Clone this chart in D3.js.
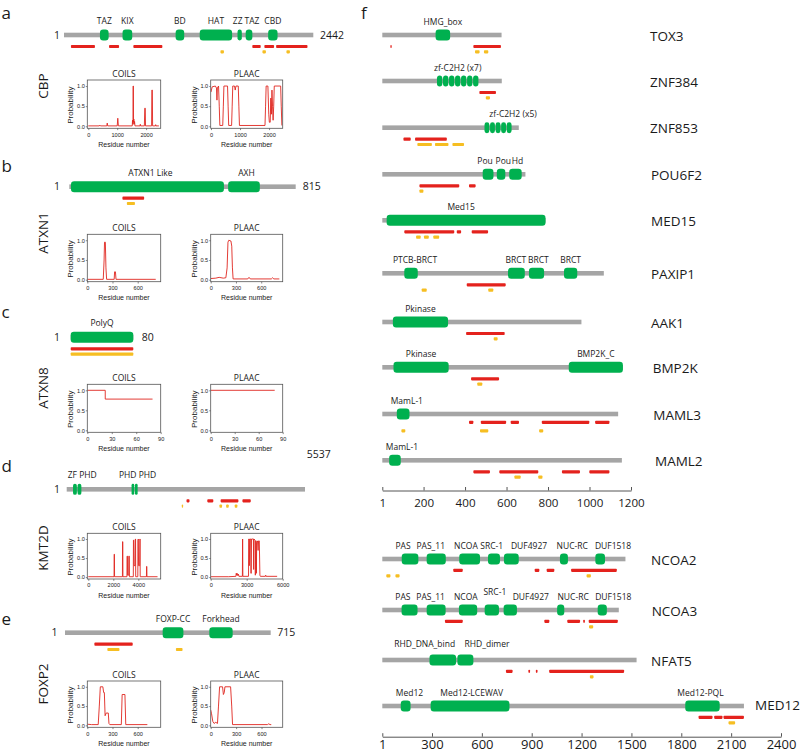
<!DOCTYPE html>
<html><head><meta charset="utf-8">
<script src="https://cdn.jsdelivr.net/npm/d3@7"></script>
<style>body{margin:0;background:#fff}</style>
</head><body><svg id="c" width="800" height="753"></svg>
<script>
// ================= DATA =================
// ---- left panels (a-e) ----
const leftGenes   = ["CBP", "ATXN1", "ATXN8", "KMT2D", "FOXP2"];
const leftLetters = ["a", "b", "c", "d", "e"];
const leftLengths = [2442, 815, 80, 5537, 715];

const cbpDom  = [["TAZ",353,438],["KIX",574,669],["BD",1094,1178],["HAT",1330,1647],["ZZ",1700,1742],["TAZ",1780,1845],["CBD",2000,2092]];
const cbpRed  = [[69,304],[442,540],[680,964],[1845,1927],[1963,2058],[2078,2385]];
const cbpYel  = [[1533,1567],[1944,1978],[2179,2213]];
const atxn1Dom = [["ATXN1 Like",7,557],["AXH",572,686]];
const atxn1Red = [[192,270]];
const atxn1Yel = [[208,237]];
const atxn8Dom = [["PolyQ",1,80]];
const atxn8Red = [[1,80]];
const atxn8Yel = [[1,80]];
const kmt2dDom = [["ZF PHD",140,350,2],["PHD PHD",1500,1657,2]];
const kmt2dRed = [[2784,2854],[3267,3407],[3577,3990],[4083,4277]];
const kmt2dYel = [[2675,2700],[3550,3610],[3705,3765],[3905,3965]];
const foxp2Dom = [["FOXP-CC",340,412],["Forkhead",502,583]];
const foxp2Red = [[103,236]];
const foxp2Yel = [[148,190],[386,409]];

// COILS / PLAAC probability traces: [residue, probability]
const cbpCoils = [[0,0.01],[380,0.01],[400,0.03],[420,0.01],[640,0.01],[655,0.08],[670,0.01],[1000,0.01],[1020,0.2],[1040,0.01],[1520,0.01],[1530,0.15],[1545,0.05],[1550,1.0],[1560,1.0],[1565,0.1],[1575,0.18],[1585,0.05],[1600,0.12],[1615,0.01],[1790,0.01],[1800,0.05],[1810,0.01],[1940,0.01],[1955,0.45],[1970,0.45],[1980,0.01],[2190,0.01],[2200,0.9],[2215,0.9],[2225,0.01],[2320,0.01],[2330,0.04],[2340,0.01],[2442,0.01]];
const cbpPlaac = [[0,0.85],[40,0.98],[150,1.0],[190,0.95],[205,0.65],[220,0.95],[260,1.0],[285,0.5],[305,0.02],[405,0.02],[425,0.5],[445,1.0],[570,1.0],[590,0.5],[610,0.02],[710,0.02],[730,0.5],[750,1.0],[810,1.0],[835,0.9],[860,1.0],[940,1.0],[960,0.5],[980,0.02],[1860,0.02],[1880,0.5],[1900,1.0],[1960,1.0],[1990,0.3],[2010,0.1],[2040,0.1],[2060,0.7],[2080,0.3],[2100,0.9],[2120,0.5],[2140,0.15],[2160,0.5],[2180,1.0],[2400,1.0],[2420,0.5],[2442,0.02]];
const atxn1Coils = [[0,0.01],[190,0.01],[200,0.5],[205,0.95],[215,0.95],[222,0.3],[230,0.01],[320,0.01],[325,0.2],[335,0.2],[342,0.01],[815,0.01]];
const atxn1Plaac = [[0,0.03],[60,0.04],[100,0.06],[150,0.04],[180,0.05],[195,0.3],[205,0.95],[215,1.0],[240,0.98],[250,0.85],[258,0.3],[266,0.02],[440,0.02],[455,0.06],[470,0.02],[720,0.02],[735,0.05],[750,0.02],[815,0.02]];
const atxn8Coils = [[0,1.0],[22,1.0],[22,0.78],[80,0.78]];
const atxn8Plaac = [[0,1.0],[80,1.0]];
const kmt2dCoils = [[0,0.01],[2060,0.01],[2070,0.6],[2090,0.6],[2100,0.01],[2730,0.01],[2740,0.93],[2760,0.93],[2770,0.01],[3090,0.01],[3100,0.55],[3130,0.55],[3140,0.05],[3230,0.05],[3240,0.55],[3280,0.55],[3290,0.01],[3600,0.01],[3610,0.97],[3640,0.97],[3660,0.3],[3740,0.3],[3760,1.0],[3780,1.0],[3790,0.01],[3960,0.01],[3970,0.97],[4000,1.0],[4020,0.3],[4110,0.3],[4130,1.0],[4140,1.0],[4150,0.01],[4650,0.01],[4660,0.28],[4680,0.28],[4690,0.01],[5537,0.01]];
const kmt2dPlaac = [[0,0.01],[1500,0.01],[2100,0.02],[2130,0.1],[2160,0.05],[2200,0.1],[2250,0.04],[2300,0.08],[2350,0.02],[2640,0.02],[2660,1.0],[2680,0.02],[3150,0.02],[3170,1.0],[3200,1.0],[3220,0.3],[3250,1.0],[3330,1.0],[3350,0.1],[3380,0.1],[3400,1.0],[3560,1.0],[3580,0.2],[3600,1.0],[3700,0.97],[3720,0.05],[3750,0.95],[3790,0.95],[3810,0.1],[3830,0.9],[3900,0.95],[3950,0.7],[3990,0.95],[4050,0.95],[4100,0.05],[4140,0.02],[4560,0.02],[4580,0.05],[4620,0.02],[5537,0.02]];
const foxp2Coils = [[0,0.03],[50,0.02],[130,0.02],[143,0.5],[155,1.0],[185,1.0],[195,0.85],[203,0.85],[212,0.25],[225,0.32],[250,0.32],[258,0.05],[268,0.02],[405,0.02],[415,0.8],[448,0.8],[458,0.02],[715,0.02]];
const foxp2Plaac = [[0,0.4],[10,0.3],[25,0.1],[40,0.05],[60,0.08],[80,0.05],[92,0.5],[105,1.0],[140,1.0],[150,0.8],[160,0.85],[168,1.0],[235,1.0],[248,0.5],[258,0.02],[670,0.02],[685,0.04],[700,0.02],[715,0.02]];

const coilsTicks = [[0,1000,2000],[0,300,600],[0,30,60,90],[0,2000,4000],[0,300,600]];
const plaacTicks = [[0,1000,2000],[0,300,600],[0,30,60,90],[0,3000,6000],[0,300,600]];
const probTicks  = [0, 0.5, 1.0];

// ---- right panel (f) ----
const upperGenes   = ["TOX3","ZNF384","ZNF853","POU6F2","MED15","PAXIP1","AAK1","BMP2K","MAML3","MAML2"];
const upperLengths = [576, 577, 659, 691, 788, 1069, 961, 1161, 1138, 1156];
const lowerGenes   = ["NCOA2","NCOA3","NFAT5","MED12"];
const lowerLengths = [1464, 1424, 1531, 2177];
const upperTicks = [1,200,400,600,800,1000,1200];
const lowerTicks = [1,300,600,900,1200,1500,1800,2100,2400];

const tox3Dom = [["HMG_box",258,328]];
const tox3Red = [[40,45],[440,573]];
const tox3Yel = [[448,470],[491,512]];
const znf384Dom = [["zf-C2H2 (x7)",263,466,7]];
const znf384Red = [[469,549]];
const znf384Yel = [[500,520]];
const znf853Dom = [["zf-C2H2 (x5)",492,626,5]];
const znf853Red = [[103,138],[159,312]];
const znf853Yel = [[170,240],[255,320],[339,395]];
const pou6f2Dom = [["Pou",485,537],["Pou",553,594],["Hd",613,673]];
const pou6f2Red = [[180,372],[419,451]];
const pou6f2Yel = [[180,199]];
const med15Dom = [["Med15",22,788]];
const med15Red = [[107,348],[360,381],[432,511]];
const med15Yel = [[164,186],[202,225],[247,275]];
const paxip1Dom = [["PTCB-BRCT",107,172],["BRCT",607,688],["BRCT",708,781],["BRCT",877,941]];
const paxip1Red = [[408,596]];
const paxip1Yel = [[191,215],[512,536]];
const aak1Dom = [["Pkinase",52,318]];
const aak1Red = [[405,591]];
const aak1Yel = [[538,557]];
const bmp2kDom = [["Pkinase",55,321],["BMP2K_C",900,1161]];
const bmp2kRed = [[429,564]];
const bmp2kYel = [[459,483]];
const maml3Dom = [["MamL-1",71,132]];
const maml3Red = [[419,440],[476,598],[620,660],[770,999],[1027,1096]];
const maml3Yel = [[93,112],[472,512],[757,777]];
const maml2Dom = [["MamL-1",34,90]];
const maml2Red = [[440,520],[565,753],[867,954],[999,1096]];
const maml2Yel = [[638,668],[753,773]];
const ncoa2Dom = [["PAS",118,218],["PAS_11",268,383],["NCOA",464,589],["SRC-1",637,709],["DUF4927",733,822],["NUC-RC",1070,1118],["DUF1518",1283,1341]];
const ncoa2Red = [[428,485],[918,946],[990,1036],[1137,1412]];
const ncoa2Yel = [[25,50],[80,105],[1230,1256]];
const ncoa3Dom = [["PAS",117,213],["PAS_11",268,382],["NCOA",462,572],["SRC-1",617,703],["DUF4927",731,811],["NUC-RC",1053,1096],["DUF1518",1297,1352]];
const ncoa3Red = [[378,485],[976,1006],[1114,1191],[1210,1220],[1243,1418]];
const ncoa3Yel = [[1245,1270]];
const nfat5Dom = [["RHD_DNA_bind",285,445],["RHD_dimer",453,549]];
const nfat5Red = [[745,785],[880,890],[925,935],[1005,1456]];
const nfat5Yel = [[1250,1272]];
const med12Dom = [["Med12",112,171],["Med12-LCEWAV",292,766],["Med12-PQL",1824,2031]];
const med12Red = [[1904,1988],[1998,2048],[2054,2177]];
const med12Yel = [[2084,2124]];

// tables built from the arrays above
const leftFeat = [[cbpDom,cbpRed,cbpYel],[atxn1Dom,atxn1Red,atxn1Yel],[atxn8Dom,atxn8Red,atxn8Yel],[kmt2dDom,kmt2dRed,kmt2dYel],[foxp2Dom,foxp2Red,foxp2Yel]];
const leftMini = [[cbpCoils,cbpPlaac],[atxn1Coils,atxn1Plaac],[atxn8Coils,atxn8Plaac],[kmt2dCoils,kmt2dPlaac],[foxp2Coils,foxp2Plaac]];
const upperFeat = [[tox3Dom,tox3Red,tox3Yel],[znf384Dom,znf384Red,znf384Yel],[znf853Dom,znf853Red,znf853Yel],[pou6f2Dom,pou6f2Red,pou6f2Yel],[med15Dom,med15Red,med15Yel],[paxip1Dom,paxip1Red,paxip1Yel],[aak1Dom,aak1Red,aak1Yel],[bmp2kDom,bmp2kRed,bmp2kYel],[maml3Dom,maml3Red,maml3Yel],[maml2Dom,maml2Red,maml2Yel]];
const lowerFeat = [[ncoa2Dom,ncoa2Red,ncoa2Yel],[ncoa3Dom,ncoa3Red,ncoa3Yel],[nfat5Dom,nfat5Red,nfat5Yel],[med12Dom,med12Red,med12Yel]];

// ================= LAYOUT =================
const GRAY = "#a5a5a5", GREEN = "#00b04f", RED = "#e4221d", YEL = "#f6be22", LINE = "#e0261f";
const FONT = "'Open Sans', 'DejaVu Sans', sans-serif";
const ARIAL = "'Liberation Sans', Arial, sans-serif";

const leftLayout = [
  {letterY:19,    bar:35,    x0:64,   x1:313.3, numX:60,   end:[320,38.7],   boxTop:80,    boxBot:128.3, nameY:86,  cx:[-35,2505], px:[-10,2470]},
  {letterY:171.7, bar:186.7, x0:69.3, x1:295.7, numX:60,   end:[302.7,190.4],boxTop:234.3, boxBot:281.7, nameY:233, cx:[0,874],    px:[0,855]},
  {letterY:318,   bar:337.3, x0:70.7, x1:133.3, numX:60,   end:[141.7,341],  boxTop:384.3, boxBot:432.3, nameY:388, cx:[0,90],     px:[0,90]},
  {letterY:471.7, bar:489.3, x0:66.7, x1:305,   numX:60,   end:[306.7,458],  boxTop:533.3, boxBot:579,   nameY:548, cx:[-80,5790], px:[0,6000]},
  {letterY:625,   bar:632.7, x0:65,   x1:270.7, numX:57.5, end:[277.3,636.4],boxTop:681,   boxBot:727.3, nameY:684, cx:[0,874],    px:[0,850]}
];
const upperRows = [
  {y:35,nameX:650},{y:81,nameX:650},{y:127.7,nameX:650},{y:174.3,nameX:651},{y:220.3,nameX:651},
  {y:273.3,nameX:651},{y:322,nameX:651},{y:367.3,nameX:652.7},{y:414,nameX:653.3,redDy:8.3},{y:460.3,nameX:655}
];
const lowerRows = [{y:559,nameX:651},{y:610,nameX:651.7},{y:660,nameX:651},{y:706,nameX:755,nameDy:3.5}];
const nudges = {
  "CBP|4":[-2,0],"CBP|5":[3,0],"ATXN1|0":[3,0],"ATXN1|1":[2.5,0],"KMT2D|0":[5,0],"KMT2D|1":[3,0],
  "ZNF853|0":[15,0],"POU6F2|0":[-3,0],"POU6F2|1":[2.3,0],"POU6F2|2":[2,0],"MED15|0":[-5,0],
  "PAXIP1|0":[4,0],"PAXIP1|1":[-0.6,0],"PAXIP1|2":[1.8,0],"MAML3|0":[3.7,0],"MAML2|0":[7,0],
  "NCOA2|0":[-7,0],"NCOA2|1":[-5.5,0],"NCOA2|2":[-3.7,0],"NCOA2|3":[-2.3,0],"NCOA2|4":[17.7,0],"NCOA2|5":[8.3,0],"NCOA2|6":[12.8,0],
  "NCOA3|0":[-6.7,0],"NCOA3|1":[-5.5,0],"NCOA3|2":[-2.2,0],"NCOA3|3":[3,-5],"NCOA3|4":[20.5,0],"NCOA3|5":[12.4,0],"NCOA3|6":[11,0],
  "NFAT5|0":[-18.1,-2.5],"NFAT5|1":[21.6,-2.5],"MED12|0":[3.8,0],"MED12|1":[1.7,0],"MED12|2":[-2,0]
};

// ================= DRAW =================
const svg = d3.select("#c");
svg.append("rect").attr("width",800).attr("height",753).attr("fill","#fff");

function txt(g, x, y, s, size, anchor, family) {
  return g.append("text").attr("x",x).attr("y",y).text(s)
    .attr("font-size",size).attr("text-anchor",anchor||"start")
    .attr("font-family",family||FONT).attr("fill","#1a1a1a");
}

function drawProtein(g, key, x, y, len, feat, o) {
  const [doms, reds, yels] = feat;
  g.append("rect").attr("x",x(1)).attr("y",y-2.3).attr("width",x(len)-x(1)).attr("height",4.6).attr("fill",GRAY);
  doms.forEach((d,i) => {
    const n = d[3] || 1, s = d[1], e = d[2], step = (e - s) / n;
    d3.range(n).forEach(k => {
      const xs = x(s + k*step), xe = x(s + (k+1)*step);
      const gap = n > 1 ? 0.35 : 0;
      const w = Math.max(1, xe - xs - 2*gap);
      g.append("rect").attr("x",xs+gap).attr("y",y-5.5).attr("width",w).attr("height",11)
        .attr("rx",Math.min(3.2,w/2)).attr("fill",GREEN);
    });
    const nd = nudges[key+"|"+i] || [0,0];
    txt(g, (x(s)+x(e))/2 + nd[0], y + o.labDy + nd[1], d[0], 8.5, "middle");
  });
  reds.forEach(r => g.append("rect").attr("x",x(r[0])).attr("width",Math.max(1.3,x(r[1])-x(r[0])))
    .attr("y",y+o.redDy-1.6).attr("height",3.2).attr("rx",0.8).attr("fill",RED));
  yels.forEach(r => g.append("rect").attr("x",x(r[0])).attr("width",Math.max(1.3,x(r[1])-x(r[0])))
    .attr("y",y+o.yelDy-1.6).attr("height",3.2).attr("rx",0.8).attr("fill",YEL));
}

let clipId = 0;
function drawMini(g, left, top, w, h, xdom, ticks, pts, title) {
  const x = d3.scaleLinear(xdom, [left, left+w]);
  const y = d3.scaleLinear([-0.05, 1.15], [top+h, top]);
  const id = "clip" + (clipId++);
  g.append("clipPath").attr("id",id).append("rect").attr("x",left).attr("y",top).attr("width",w).attr("height",h);
  g.append("path").datum(pts).attr("clip-path",`url(#${id})`)
    .attr("d", d3.line().x(d=>x(d[0])).y(d=>y(d[1])))
    .attr("fill","none").attr("stroke",LINE).attr("stroke-width",0.9).attr("stroke-linejoin","round");
  g.append("rect").attr("x",left).attr("y",top).attr("width",w).attr("height",h)
    .attr("fill","none").attr("stroke","#555").attr("stroke-width",0.8);
  const ax = g.append("g").attr("transform",`translate(0,${top+h})`)
    .call(d3.axisBottom(x).tickValues(ticks).tickSize(1.8).tickPadding(2.5).tickFormat(d3.format("d")));
  const ay = g.append("g").attr("transform",`translate(${left},0)`)
    .call(d3.axisLeft(y).tickValues(probTicks).tickSize(1.5).tickPadding(1).tickFormat(d3.format(".1f")));
  [ax, ay].forEach(a => {
    a.select(".domain").remove();
    a.selectAll("line").attr("stroke","#555").attr("stroke-width",0.7);
    a.selectAll("text").attr("font-size",5.6).attr("font-family",ARIAL).attr("fill","#222");
  });
  txt(g, left + w/2, top - 3, title, 8.5, "middle");
  txt(g, left + w/2, top + h + 18.5, "Residue number", 7, "middle", ARIAL);
  txt(g, 0, 0, "Probability", 8, "middle", ARIAL)
    .attr("transform", `translate(${left-14},${top + h/2 + 1}) rotate(-90)`);
}

// ---- left panels ----
const gl = svg.append("g");
leftGenes.forEach((gene, i) => {
  const L = leftLayout[i], len = leftLengths[i];
  txt(gl, 1.5, L.letterY, leftLetters[i], 17);
  const x = d3.scaleLinear([1, len], [L.x0, L.x1]);
  txt(gl, L.numX, L.bar + 3.7, "1", 10.5, "end");
  txt(gl, L.end[0], L.end[1], String(len), 10.5);
  drawProtein(gl, gene, x, L.bar, len, leftFeat[i], {labDy:-11, redDy:11.5, yelDy:16.8});
  txt(gl, 0, 0, gene, 13.5, "middle").attr("transform",`translate(47.8,${L.nameY}) rotate(-90)`);
  const h = L.boxBot - L.boxTop;
  drawMini(gl, 87.3, L.boxTop, 73.4, h, L.cx, coilsTicks[i], leftMini[i][0], "COILS");
  drawMini(gl, 210.7, L.boxTop, 72, h, L.px, plaacTicks[i], leftMini[i][1], "PLAAC");
});

// ---- right panel ----
const gr = svg.append("g");
txt(gr, 361, 19, "f", 17);
const xTop = d3.scaleLinear([1, 1200], [382.3, 631]);
const xBot = d3.scaleLinear([1, 2400], [382.3, 781]);

upperGenes.forEach((gene, i) => {
  const R = upperRows[i];
  drawProtein(gr, gene, xTop, R.y, upperLengths[i], upperFeat[i], {labDy:-10.5, redDy:R.redDy||11.5, yelDy:16.8});
  txt(gr, R.nameX, R.y + 5.5, gene, 13.5);
});
lowerGenes.forEach((gene, i) => {
  const R = lowerRows[i];
  drawProtein(gr, gene, xBot, R.y, lowerLengths[i], lowerFeat[i], {labDy:-10.5, redDy:11.3, yelDy:16.8});
  txt(gr, R.nameX, R.y + (R.nameDy||5.5), gene, 13.5);
});

function styleAxis(a, size) {
  a.select(".domain").attr("stroke","#555").attr("stroke-width",1);
  a.selectAll("line").attr("stroke","#555").attr("stroke-width",1);
  a.selectAll("text").attr("font-size",size).attr("font-family",FONT).attr("fill","#1a1a1a");
}
const axTop = gr.append("g").attr("transform","translate(0,490.5)")
  .call(d3.axisBottom(xTop).tickValues(upperTicks).tickSizeInner(-3.5).tickSizeOuter(0).tickPadding(8.5).tickFormat(d=>String(d)));
styleAxis(axTop, 11.6);
const axBot = gr.append("g").attr("transform","translate(0,736.7)")
  .call(d3.axisBottom(xBot).tickValues(lowerTicks).tickSizeInner(-3.5).tickSizeOuter(0).tickPadding(3.5).tickFormat(d=>String(d)));
styleAxis(axBot, 13);
</script></body></html>
